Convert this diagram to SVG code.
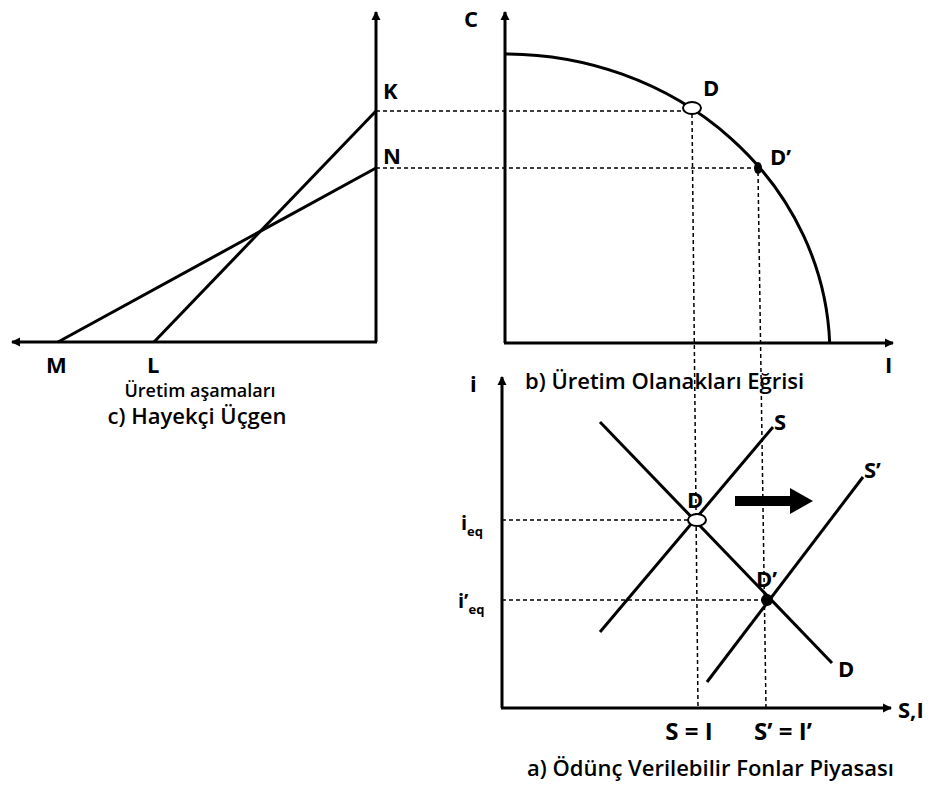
<svg xmlns="http://www.w3.org/2000/svg" width="936" height="788" viewBox="0 0 936 788">
<defs>
<marker id="ah" markerWidth="10" markerHeight="10" refX="8" refY="5" orient="auto" markerUnits="userSpaceOnUse">
<path d="M0,0.5 L9,5 L0,9.5 Z" fill="#000"/>
</marker>
<style>
.ax{stroke:#000;stroke-width:3;fill:none}
.ln{stroke:#000;stroke-width:3;fill:none;stroke-linecap:butt}
.ds{stroke:#000;stroke-width:1.5;stroke-dasharray:4 3;fill:none}
.lb{font-family:"Open Sans","Liberation Sans",sans-serif;font-weight:700;font-size:22px;fill:#000}
.cap{font-family:"Open Sans","Liberation Sans",sans-serif;font-weight:600;font-size:22px;fill:#000}
.sm{font-family:"Open Sans","Liberation Sans",sans-serif;font-weight:700;font-size:13px;fill:#000}
</style>
</defs>
<rect width="936" height="788" fill="#fff"/>

<g id="guides">
<line class="ds" x1="376" y1="111" x2="688" y2="111"/>
<line class="ds" x1="376" y1="168" x2="755" y2="168"/>
<line class="ds" x1="692" y1="114" x2="698" y2="708"/>
<line class="ds" x1="758" y1="172" x2="766" y2="708"/>
<line class="ds" x1="502" y1="520" x2="692" y2="520"/>
<line class="ds" x1="502" y1="600" x2="764" y2="600"/>
</g>

<g id="panel-c">
<path class="ax" d="M376,342 L376,12" marker-end="url(#ah)"/>
<path class="ax" d="M377,342 L12,342" marker-end="url(#ah)"/>
<line class="ln" x1="376" y1="111" x2="154" y2="342"/>
<line class="ln" x1="376" y1="168" x2="58" y2="342"/>
<text class="lb" x="383" y="99">K</text>
<text class="lb" x="383" y="164">N</text>
<text class="lb" x="46" y="373">M</text>
<text class="lb" x="147" y="373">L</text>
<text class="cap" x="200" y="397" text-anchor="middle" style="font-size:18px">Üretim aşamaları</text>
<text class="cap" x="197" y="424" text-anchor="middle">c) Hayekçi Üçgen</text>
</g>

<g id="panel-b">
<path class="ax" d="M505,343 L505,12" marker-end="url(#ah)"/>
<path class="ax" d="M504,343 L893,343" marker-end="url(#ah)"/>
<path class="ln" d="M505,54 A325,300 0 0 1 829.7,343"/>
<ellipse cx="692" cy="108" rx="9" ry="6" fill="#fff" stroke="#000" stroke-width="2"/>
<ellipse cx="758" cy="168" rx="4" ry="6" fill="#000"/>
<text class="lb" x="464" y="27">C</text>
<text class="lb" x="885" y="373">I</text>
<text class="lb" x="703" y="96">D</text>
<text class="lb" x="770" y="165">D’</text>
<text class="cap" x="525" y="389">b) Üretim Olanakları Eğrisi</text>
</g>

<g id="panel-a">
<path class="ax" d="M502,708 L502,377" marker-end="url(#ah)"/>
<path class="ax" d="M501,708 L891,708" marker-end="url(#ah)"/>
<line class="ln" x1="600" y1="632" x2="773" y2="427"/>
<line class="ln" x1="600" y1="422" x2="832" y2="663"/>
<line class="ln" x1="707" y1="682" x2="863" y2="477"/>
<ellipse cx="697" cy="520" rx="9" ry="6" fill="#fff" stroke="#000" stroke-width="2"/>
<ellipse cx="767" cy="600" rx="6" ry="6" fill="#000"/>
<path d="M735,496 L790,496 L790,488 L813,501 L790,514 L790,506 L735,506 Z" fill="#000"/>
<text class="lb" x="774" y="430">S</text>
<text class="lb" x="864" y="478">S’</text>
<text class="lb" x="838" y="677">D</text>
<text class="lb" x="687" y="508">D</text>
<text class="lb" x="756" y="587">D’</text>
<text class="lb" x="470" y="392">i</text>
<text class="lb" x="898" y="718">S,I</text>
<text class="lb" x="461" y="530" style="font-size:20px">i<tspan class="sm" dy="6">eq</tspan></text>
<text class="lb" x="458" y="608" style="font-size:20px">i’<tspan class="sm" dy="6">eq</tspan></text>
<text class="lb" x="689" y="740" text-anchor="middle" style="font-size:24px">S = I</text>
<text class="lb" x="783" y="740" text-anchor="middle" style="font-size:24px">S’ = I’</text>
<text class="cap" x="527" y="776">a) Ödünç Verilebilir Fonlar Piyasası</text>
</g>
</svg>
